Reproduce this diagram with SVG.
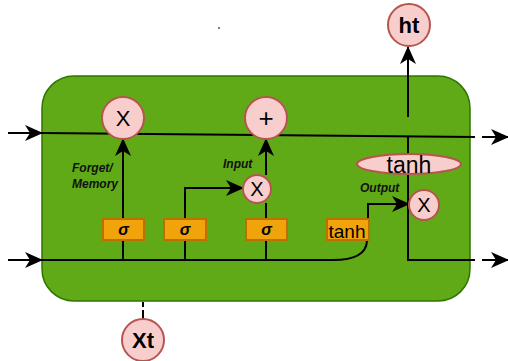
<svg xmlns="http://www.w3.org/2000/svg" width="508" height="361" viewBox="0 0 508 361">
<style>
.op{fill:#f8cecc;stroke:#b85450;stroke-width:2}
.sg{fill:#f0a30a;stroke:#bd7000;stroke-width:2}
.ln{fill:none;stroke:#000;stroke-width:2}
.t{font-family:"Liberation Sans",Arial,sans-serif;fill:#000}
.lbl{font-family:"Liberation Sans",Arial,sans-serif;font-size:12px;font-weight:bold;font-style:italic;fill:#111}
</style>
<defs>
<marker id="ah" viewBox="0 0 18 16" refX="17" refY="8" markerWidth="18" markerHeight="16" markerUnits="userSpaceOnUse" orient="auto">
<path d="M0,0 L18,8 L0,16 L5,8 z" fill="#000"/>
</marker>
</defs>
<rect id="cell" x="42" y="76" width="428" height="225" rx="32" fill="#60a917" stroke="#2d7600" stroke-width="1.5"/>
<circle cx="219" cy="28" r="1" fill="#555"/>
<g id="connectors">
<path class="ln" d="M8,133 L42,133" marker-end="url(#ah)"/>
<path class="ln" d="M42,133 L475,137"/>
<path class="ln" d="M482,137 L491,137"/>
<path class="ln" d="M491,137 L508,137" marker-end="url(#ah)"/>
<path class="ln" d="M8,260 L42,260" marker-end="url(#ah)"/>
<path class="ln" d="M42,260 L333,260 Q366,260 367,241"/>
<path class="ln" d="M123,260 L123,241"/>
<path class="ln" d="M185,260 L185,241"/>
<path class="ln" d="M266,260 L266,241"/>
<path class="ln" d="M123,219 L123,139" marker-end="url(#ah)"/>
<path class="ln" d="M185,219 L185,188 L243,188" marker-end="url(#ah)"/>
<path class="ln" d="M266,219 L266,203"/>
<path class="ln" d="M266,175 L266,139" marker-end="url(#ah)"/>
<path class="ln" d="M368,219 L368,204 L409,204" marker-end="url(#ah)"/>
<path class="ln" d="M408,137 L408,260 L475,260"/>
<path class="ln" d="M482,260 L491,260"/>
<path class="ln" d="M491,260 L508,260" marker-end="url(#ah)"/>
<path class="ln" d="M408,117 L408,47" marker-end="url(#ah)"/>
<path class="ln" d="M143,319 L143,302" stroke-dasharray="9,3"/>
</g>
<g id="forget-x"><circle class="op" cx="123" cy="118" r="21"/><text class="t" x="123" y="126" font-size="22" text-anchor="middle">X</text></g>
<g id="plus"><circle class="op" cx="266" cy="118" r="21"/><text class="t" x="266" y="127" font-size="26" text-anchor="middle">+</text></g>
<g id="input-x"><circle class="op" cx="257" cy="189" r="14"/><text class="t" x="257" y="196" font-size="20" text-anchor="middle">X</text></g>
<g id="output-x"><circle class="op" cx="424" cy="205" r="15"/><text class="t" x="424" y="212" font-size="20" text-anchor="middle">X</text></g>
<g id="tanh-ellipse"><ellipse class="op" cx="409" cy="164" rx="52" ry="10"/><text class="t" x="409" y="173" font-size="23" text-anchor="middle" fill="#222">tanh</text></g>
<g id="sigma1"><rect class="sg" x="103" y="219" width="41" height="21"/><text class="t" x="123.5" y="235" font-size="16" font-weight="bold" font-style="italic" text-anchor="middle">σ</text></g>
<g id="sigma2"><rect class="sg" x="164" y="219" width="42" height="21"/><text class="t" x="185" y="235" font-size="16" font-weight="bold" font-style="italic" text-anchor="middle">σ</text></g>
<g id="sigma3"><rect class="sg" x="246" y="219" width="41" height="21"/><text class="t" x="266.5" y="235" font-size="16" font-weight="bold" font-style="italic" text-anchor="middle">σ</text></g>
<g id="tanh-box"><rect class="sg" x="327" y="219" width="42" height="21"/><text class="t" x="347" y="238" font-size="19" text-anchor="middle" fill="#333">tanh</text></g>
<g id="ht"><circle class="op" cx="409" cy="25" r="21"/><text class="t" x="409" y="33" font-size="22" font-weight="bold" text-anchor="middle">ht</text></g>
<g id="xt"><circle class="op" cx="143" cy="340" r="21"/><text class="t" x="143" y="348" font-size="22" font-weight="bold" text-anchor="middle">Xt</text></g>
<g id="labels">
<text class="lbl" x="72" y="172">Forget/</text>
<text class="lbl" x="72" y="188">Memory</text>
<text class="lbl" x="223" y="168">Input</text>
<text class="lbl" x="360" y="192">Output</text>
</g>
</svg>
